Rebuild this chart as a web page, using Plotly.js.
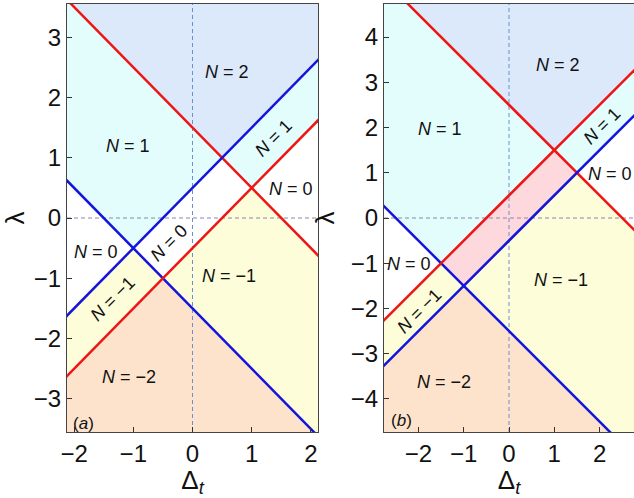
<!DOCTYPE html>
<html>
<head>
<meta charset="utf-8">
<script src="https://cdn.plot.ly/plotly-3.0.1.min.js"></script>
<style>
  body { margin: 0; padding: 0; overflow: hidden; }
  #chart { width: 634px; height: 498px; }
</style>
</head>
<body>
<div id="chart"></div>
<script>
// Boundaries of the phases, written as lambda + Delta_t = u and lambda - Delta_t = v
const uCutsA = [-1.5, 1.5];
const vCutsA = [-0.5, 0.5];
const uColorsA = ['blue', 'red'];
const vColorsA = ['red', 'blue'];

const uCutsB = [-2.5, 2.5];
const vCutsB = [-0.5, 0.5];
const uColorsB = ['blue', 'red'];
const vColorsB = ['blue', 'red'];

// fill colour for each winding number N
const nValues = [2, 1, 0, -1, -2];
const nColors = ['#dce9fb', '#e3fdfd', '#ffffff', '#fdfdd9', '#fde3cc'];
const centerColorA = '#ffffff';
const centerColorB = '#fdd8dc';

// region labels
const labelTextA = ['N = 2', 'N = 1', 'N = 1', 'N = 0', 'N = 0', 'N = 0', 'N = −1', 'N = −1', 'N = −2'];
const labelXA = [0.58, -1.09, 1.37, 1.66, -1.63, -0.40, -1.35, 0.61, -1.08];
const labelYA = [2.43, 1.19, 1.32, 0.48, -0.57, -0.41, -1.35, -0.96, -2.63];
const labelAngA = [0, 0, -45, 0, 0, -45, -45, 0, 0];

const labelTextB = ['N = 2', 'N = 1', 'N = 1', 'N = 0', 'N = 0', 'N = −1', 'N = −1', 'N = −2'];
const labelXB = [1.08, -1.52, 2.05, 2.23, -2.2, -1.98, 1.14, -1.43];
const labelYB = [3.38, 1.96, 2.04, 0.97, -1.02, -2.05, -1.37, -3.63];
const labelAngB = [0, 0, -45, 0, 0, -45, 0, 0];

const xRangeA = [-2.12, 2.12], yRangeA = [-3.55, 3.55];
const xRangeB = [-2.76, 2.76], yRangeB = [-4.73, 4.73];

// keep the part of poly where a*x + b*y + c >= 0
function clip(poly, a, b, c) {
    var out = [];
    for (var i = 0; i < poly.length; i++) {
        var p = poly[i], q = poly[(i + 1) % poly.length];
        var fp = a * p[0] + b * p[1] + c, fq = a * q[0] + b * q[1] + c;
        if (fp >= 0) out.push(p);
        if ((fp >= 0) !== (fq >= 0)) {
            var t = fp / (fp - fq);
            out.push([p[0] + t * (q[0] - p[0]), p[1] + t * (q[1] - p[1])]);
        }
    }
    return out;
}

// half planes for band k (-1, 0, 1) of u = y + x (s = 1) or v = y - x (s = -1)
function bandPlanes(cuts, k, s) {
    var planes = [];
    if (k >= 0) planes.push([s, 1, -(k === 0 ? cuts[0] : cuts[1])]);
    if (k <= 0) planes.push([-s, -1, (k === 0 ? cuts[1] : cuts[0])]);
    return planes;
}

function panelTraces(xr, yr, uCuts, vCuts, uCols, vCols, centerColor, xa, ya) {
    var traces = [];
    var rect = [[xr[0], yr[0]], [xr[1], yr[0]], [xr[1], yr[1]], [xr[0], yr[1]]];
    [-1, 0, 1].forEach(function (i) {
        [-1, 0, 1].forEach(function (j) {
            var poly = rect;
            bandPlanes(uCuts, i, 1).concat(bandPlanes(vCuts, j, -1)).forEach(function (pl) {
                poly = clip(poly, pl[0], pl[1], pl[2]);
            });
            if (poly.length < 3) return;
            var col = (i === 0 && j === 0) ? centerColor : nColors[nValues.indexOf(i + j)];
            traces.push({
                x: poly.map(p => p[0]).concat([poly[0][0]]),
                y: poly.map(p => p[1]).concat([poly[0][1]]),
                type: 'scatter', mode: 'lines', fill: 'toself', fillcolor: col,
                line: { width: 0, color: col }, hoverinfo: 'skip', showlegend: false,
                xaxis: xa, yaxis: ya
            });
        });
    });
    // dashed zero lines
    traces.push({ x: [0, 0], y: yr, type: 'scatter', mode: 'lines', xaxis: xa, yaxis: ya,
        line: { color: '#6b8fd2', width: 1, dash: '4px,3px' }, hoverinfo: 'skip', showlegend: false });
    traces.push({ x: xr, y: [0, 0], type: 'scatter', mode: 'lines', xaxis: xa, yaxis: ya,
        line: { color: '#8c86b0', width: 1, dash: '4px,3px' }, hoverinfo: 'skip', showlegend: false });
    // boundary lines
    var colMap = { red: '#ee1515', blue: '#1414dd' };
    var ext = [xr[0] - 1, xr[1] + 1];
    uCuts.forEach(function (c, k) {
        traces.push({ x: ext, y: ext.map(x => c - x), type: 'scatter', mode: 'lines', xaxis: xa, yaxis: ya,
            line: { color: colMap[uCols[k]], width: 2.5 }, hoverinfo: 'skip', showlegend: false });
    });
    vCuts.forEach(function (c, k) {
        traces.push({ x: ext, y: ext.map(x => c + x), type: 'scatter', mode: 'lines', xaxis: xa, yaxis: ya,
            line: { color: colMap[vCols[k]], width: 2.5 }, hoverinfo: 'skip', showlegend: false });
    });
    return traces;
}

function labelAnnots(texts, xs, ys, angs, xa, ya) {
    return texts.map(function (t, k) {
        return {
            x: xs[k], y: ys[k], xref: xa, yref: ya, showarrow: false, textangle: angs[k],
            text: t.replace('N', '<i>N</i>'),
            font: { family: 'Liberation Sans, Arial, sans-serif', size: 18, color: '#111' }
        };
    });
}

var data = panelTraces(xRangeA, yRangeA, uCutsA, vCutsA, uColorsA, vColorsA, centerColorA, 'x', 'y')
    .concat(panelTraces(xRangeB, yRangeB, uCutsB, vCutsB, uColorsB, vColorsB, centerColorB, 'x2', 'y2'));

var tickFont = { family: 'Liberation Sans, Arial, sans-serif', size: 24, color: '#111' };

function axis(range, domain, anchor, title, standoff) {
    return {
        range: range, domain: domain, anchor: anchor, dtick: 1,
        showgrid: false, zeroline: false, showline: true, mirror: true,
        linecolor: '#444', linewidth: 1, ticks: 'inside', ticklen: 5, tickcolor: '#333',
        tickfont: tickFont,
        title: { text: title, standoff: standoff, font: { family: 'Liberation Sans, Arial, sans-serif', size: 26, color: '#111' } }
    };
}

var layout = {
    width: 634, height: 498,
    margin: { l: 67, r: 0, t: 4, b: 66 },
    paper_bgcolor: 'white', plot_bgcolor: 'white',
    showlegend: false,
    xaxis: axis(xRangeA, [0, 0.4427], 'y', 'Δ<sub><i>t</i></sub>', 6),
    yaxis: axis(yRangeA, [0, 1], 'x', 'λ', 8),
    xaxis2: axis(xRangeB, [0.5591, 1], 'y2', 'Δ<sub><i>t</i></sub>', 6),
    yaxis2: axis(yRangeB, [0, 1], 'x2', 'λ', 8),
    annotations: labelAnnots(labelTextA, labelXA, labelYA, labelAngA, 'x', 'y')
        .concat(labelAnnots(labelTextB, labelXB, labelYB, labelAngB, 'x2', 'y2'))
        .concat([
            { x: -1.84, y: -3.41, xref: 'x', yref: 'y', showarrow: false, text: '(<i>a</i>)',
              font: { family: 'Liberation Sans, Arial, sans-serif', size: 17, color: '#111' } },
            { x: -2.38, y: -4.47, xref: 'x2', yref: 'y2', showarrow: false, text: '(<i>b</i>)',
              font: { family: 'Liberation Sans, Arial, sans-serif', size: 17, color: '#111' } }
        ])
};

Plotly.newPlot('chart', data, layout, { displayModeBar: false, staticPlot: true });
</script>
</body>
</html>
